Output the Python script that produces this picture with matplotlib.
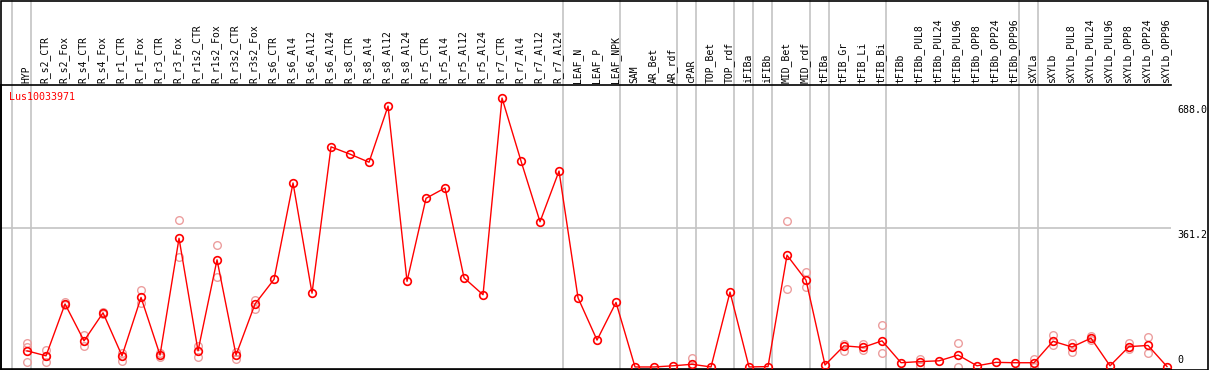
import matplotlib.pyplot as plt
from matplotlib.patches import Rectangle

labels = ['HYP', 'R_s2_CTR', 'R_s2_Fox', 'R_s4_CTR', 'R_s4_Fox', 'R_r1_CTR', 'R_r1_Fox',
          'R_r3_CTR', 'R_r3_Fox', 'R_r1s2_CTR', 'R_r1s2_Fox', 'R_r3s2_CTR', 'R_r3s2_Fox',
          'R_s6_CTR', 'R_s6_Al4', 'R_s6_Al12', 'R_s6_Al24', 'R_s8_CTR', 'R_s8_Al4',
          'R_s8_Al12', 'R_s8_Al24', 'R_r5_CTR', 'R_r5_Al4', 'R_r5_Al12', 'R_r5_Al24',
          'R_r7_CTR', 'R_r7_Al4', 'R_r7_Al12', 'R_r7_Al24', 'LEAF_N', 'LEAF_P', 'LEAF_NPK',
          'SAM', 'AR_Bet', 'AR_rdf', 'cPAR', 'TOP_Bet', 'TOP_rdf', 'iFIBa', 'iFIBb',
          'MID_Bet', 'MID_rdf', 'tFIBa', 'tFIB_Gr', 'tFIB_Li', 'tFIB_Bi', 'tFIBb',
          'tFIBb_PUL8', 'tFIBb_PUL24', 'tFIBb_PUL96', 'tFIBb_OPP8', 'tFIBb_OPP24',
          'tFIBb_OPP96', 'sXYLa', 'sXYLb', 'sXYLb_PUL8', 'sXYLb_PUL24', 'sXYLb_PUL96',
          'sXYLb_OPP8', 'sXYLb_OPP24', 'sXYLb_OPP96']

means = [42, 29, 164, 68, 141, 29, 181, 31, 335, 42, 279, 31, 164,
         228, 479, 192, 573, 554, 533, 679, 223, 439, 466, 232, 188,
         700, 536, 378, 510, 180, 70, 168,
         0, 0, 3, 7, 0, 195, 0, 1, 291, 226, 5, 55, 51, 68, 11,
         14, 16, 31, 3, 12, 11, 11, 67, 52, 75, 3, 53, 56, 1]

replicates = [[63, 12, 52], [44, 13, 29], [170, 161], [82, 55], [138, 144], [37, 16],
              [200, 166], [27, 36], [383, 286], [55, 25], [317, 235], [40, 21], [174, 151],
              [], [], [], [], [], [], [], [], [], [], [], [],
              [], [], [], [], [], [], [],
              [], [], [], [23, 0], [], [], [], [], [379, 202], [247, 208], [], [60, 42],
              [60, 44], [109, 36], [], [21, 3], [], [62, 0], [], [], [], [21, 1],
              [82, 57], [63, 39], [81, 71], [], [63, 46], [77, 37], []]

# group separators (after these columns)
group_ends = [-1, 0, 28, 31, 34, 35, 37, 38, 39, 41, 42, 45, 52, 53]
title = 'Lus10033971'

W, H = 1209, 370
fig = plt.figure(figsize=(W / 100, H / 100), dpi=100)
ax = fig.add_axes([1 / W, 1.5 / H, 1170 / W, 283.5 / H])

grey = '#c4c4c4'
ymax_ext = 1 + 85 / 283.5
for g in group_ends:
    ax.axvline(g + 0.2, ymin=0, ymax=ymax_ext, color=grey, lw=1.2, clip_on=False, zorder=0)
ax.axhline(361.2, color=grey, lw=1.2, zorder=0)

x = list(range(len(labels)))
for i, reps in enumerate(replicates):
    if reps:
        ax.plot([i] * len(reps), reps, 'o', mfc='none', mec='#ec9e9e', ms=5.5, mew=1.0,
                zorder=2, clip_on=False)
ax.plot(x, means, '-', color='red', lw=1.0, marker='o', mfc='none', mec='red', ms=5.5,
        mew=1.2, zorder=3, clip_on=False)

ax.set_xlim(-1.37, 60.21)
ax.set_ylim(-4, 734)
ax.set_xticks([])
ax.set_yticks([])
for s in ['left', 'top', 'bottom']:
    ax.spines[s].set_color('black')
    ax.spines[s].set_linewidth(1.2)
ax.spines['right'].set_visible(False)

mono = 'DejaVu Sans Mono'
for i, lab in enumerate(labels):
    ax.text(i - 0.05, 1 + 2 / 283.5, lab, transform=ax.get_xaxis_transform(), rotation=90,
            ha='center', va='bottom', fontsize=7.0, family=mono, color='black')

ax.text(-0.95, 703, title, color='red', fontsize=7.2, family=mono, va='center', ha='left')

for val, txt, va in [(688.0, '688.0', 'top'), (361.2, '361.2', 'top'), (0, '0', 'bottom')]:
    off = -2 if va == 'top' else 2
    ax.annotate(txt, xy=(1.0, val), xycoords=('axes fraction', 'data'),
                xytext=(6, off), textcoords='offset pixels', ha='left', va=va,
                fontsize=7.2, family=mono, color='black', annotation_clip=False)

fig.patches.append(Rectangle((0.5 / W, 0.5 / H), 1 - 1.5 / W, 1 - 1.5 / H,
                             transform=fig.transFigure, fill=False, ec='black', lw=1.2))

fig.savefig('out.png', dpi=100)
